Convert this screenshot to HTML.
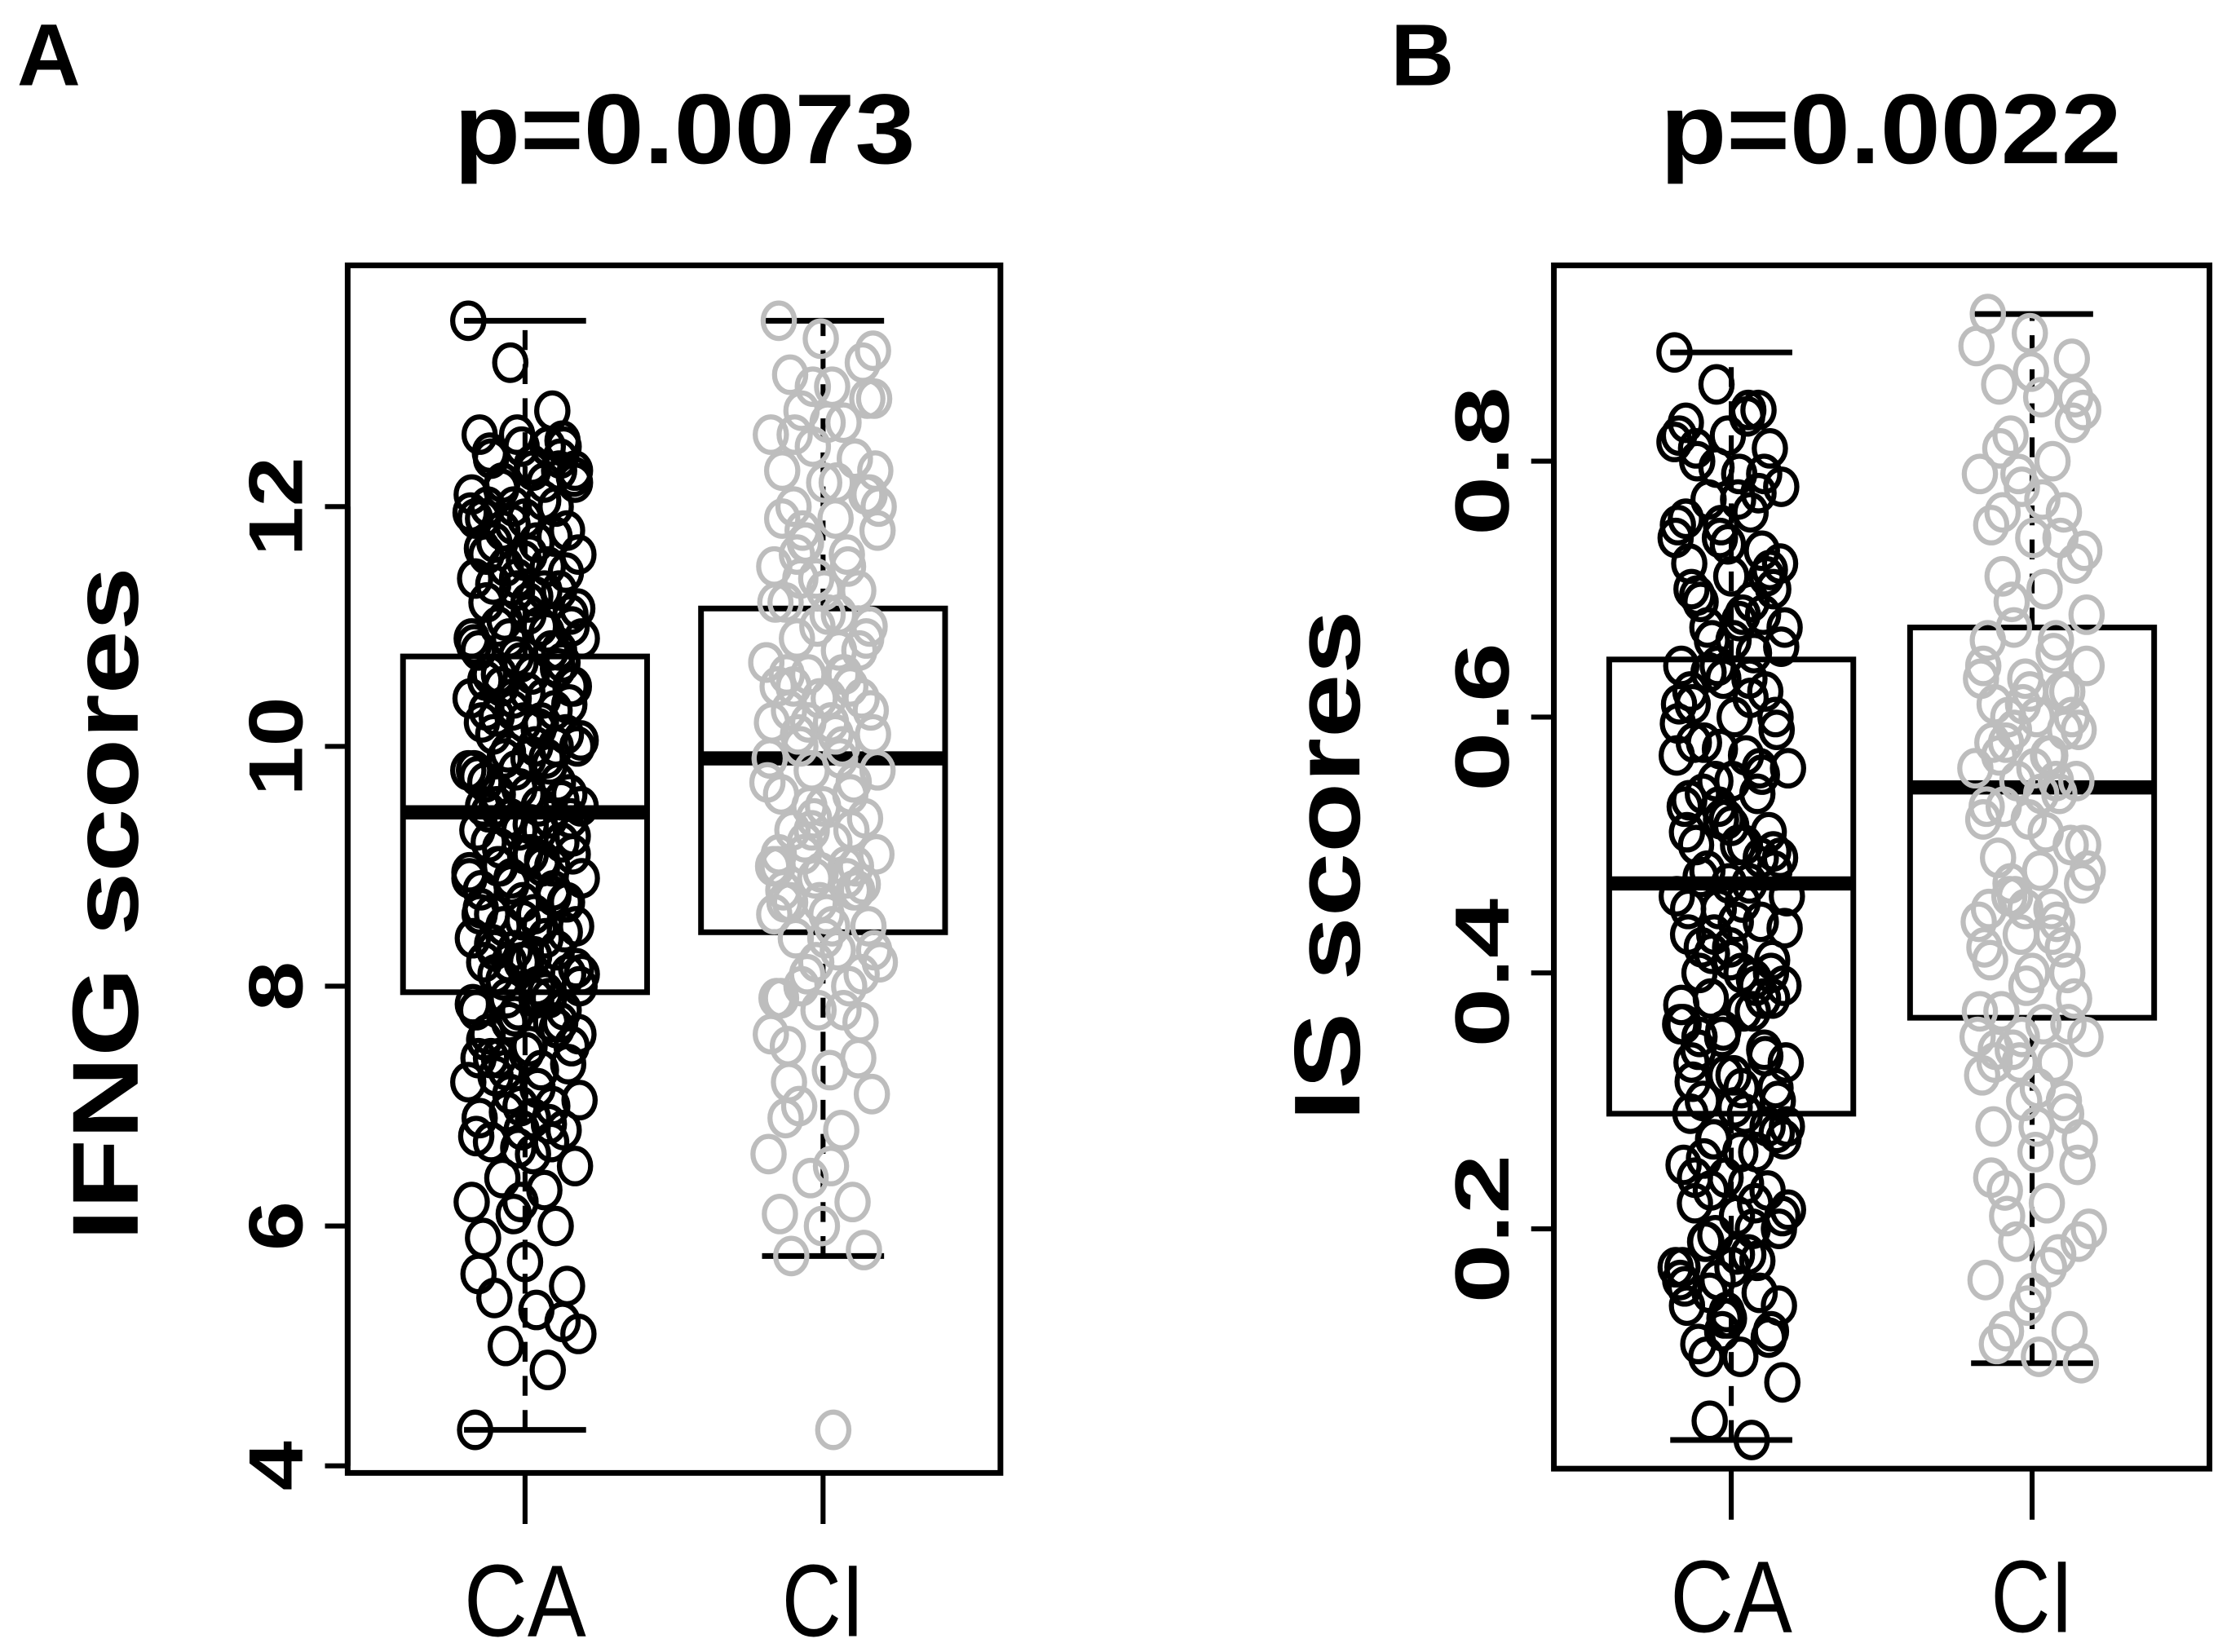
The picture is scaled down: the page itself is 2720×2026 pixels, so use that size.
<!DOCTYPE html>
<html><head><meta charset="utf-8"><style>
html,body{margin:0;padding:0;background:#fff;}
svg{display:block;}
text{font-family:"Liberation Sans",Arial,sans-serif;fill:#000;}
</style></head><body>
<svg id="fig" width="2720" height="2026" viewBox="0 0 1563 1164.2" preserveAspectRatio="none" xmlns="http://www.w3.org/2000/svg">
<rect width="1563" height="1165" fill="#fff"/>
<text x="12" y="60" font-size="62" font-weight="bold">A</text>
<text x="980" y="60" font-size="62" font-weight="bold">B</text>
<text x="320" y="115" font-size="70" font-weight="bold" textLength="325" lengthAdjust="spacingAndGlyphs">p=0.0073</text>
<text x="1170" y="115" font-size="70" font-weight="bold" textLength="325" lengthAdjust="spacingAndGlyphs">p=0.0022</text>
<g id="pa"></g>
<g id="pb"></g>
</svg>
<script>
// ----- Panel A data (IFNG scores) -----
const categories = ["CA", "CI"];
const aTicks = [4, 6, 8, 10, 12];
const aStatsCA = [4.3, 7.95, 9.45, 10.75, 13.55]; // min q1 median q3 max
const aStatsCI = [5.75, 8.45, 9.9, 11.15, 13.55];
const aPointsCA = [13.55,13.2,12.8,12.6,12.5,12.5,12.4,12.3,12.3,12.2,12.2,12.1,12.0,12.0,11.9,11.9,11.8,11.7,11.7,11.6,11.5,11.5,11.4,11.3,11.3,11.2,11.1,11.1,11.0,11.0,10.9,10.9,10.8,10.8,10.7,10.7,10.6,10.6,10.5,10.5,10.4,10.4,10.3,10.3,10.2,10.2,10.1,10.1,10.0,10.0,9.9,9.9,9.8,9.8,9.7,9.7,9.6,9.6,9.5,9.5,9.5,9.4,9.4,9.3,9.3,9.2,9.2,9.1,9.1,9.0,9.0,8.9,8.9,8.8,8.8,8.7,8.7,8.6,8.6,8.5,8.5,8.4,8.4,8.3,8.3,8.2,8.2,8.1,8.1,8.0,8.0,7.9,7.9,7.8,7.8,7.7,7.6,7.5,7.5,7.4,7.3,7.2,7.1,7.0,6.9,6.8,6.8,6.7,6.6,6.5,6.4,6.3,6.2,6.1,6.0,5.9,5.7,5.5,5.4,5.3,5.1,5.0,4.8,4.3,12.6,12.3,11.6,11.2,10.5,9.6,9.3,8.9,8.2,7.7,7.4,7.0,
12.55,12.45,12.35,12.25,12.15,12.05,11.95,11.85,11.75,11.65,11.55,11.45,11.35,11.25,11.15,11.05,10.95,10.85,10.75,10.65,10.55,10.45,10.35,10.25,10.15,10.05,9.95,9.85,9.75,9.65,9.55,9.45,9.35,9.25,9.15,9.05,8.95,8.85,8.75,8.65,8.55,8.45,8.35,8.25,8.15,8.05,7.95,7.85,7.75,7.65,7.55,7.45,7.35,7.25,7.15,7.05,6.95,6.85,6.75,6.65,12.4,12.0,11.6,11.0,10.6,10.2,9.8,9.4,9.0,8.6,8.2,7.8,7.4,6.9,12.2,11.8,11.3,10.9,10.4,10.0,9.5,9.1,8.7,8.3,7.9,7.6,7.3,12.5,11.9,11.4,10.8,10.3,9.9,9.4,9.0,8.5,8.1,7.7,6.7,5.6,6.2,5.2];
const aPointsCI = [13.55,13.4,13.2,13.1,13.0,12.9,12.8,12.7,12.6,12.5,12.4,12.3,12.2,12.1,12.0,11.9,11.8,11.7,11.6,11.5,11.4,11.3,11.2,11.1,11.0,10.9,10.8,10.7,10.6,10.5,10.5,10.4,10.4,10.3,10.2,10.1,10.0,10.0,9.9,9.8,9.7,9.6,9.5,9.4,9.3,9.2,9.1,9.1,9.0,9.0,8.9,8.8,8.7,8.6,8.5,8.4,8.3,8.2,8.1,8.0,7.9,7.8,7.7,7.5,7.3,7.1,7.0,6.8,6.6,6.4,6.2,6.1,6.0,5.8,5.75,4.3,12.3,11.8,10.6,10.2,9.4,9.0,8.8,8.4,
12.9,12.6,12.2,12.0,11.7,11.5,11.2,11.0,10.8,10.6,10.4,10.3,10.1,9.9,9.7,9.5,9.3,9.1,8.95,8.85,8.7,8.5,8.3,8.0,7.8,7.6,13.0,12.4,11.9,11.3,10.9,10.5,10.1,9.8,9.2,8.9,8.6,8.2,7.4,6.9,12.7,12.1,11.6,11.1,10.7,10.2,9.6,9.0,8.7,8.1,7.2,6.5,13.3,11.4,10.6,9.9,9.3,8.8,7.9];
// ----- Panel B data (IS scores) -----
const bTicks = [0.2, 0.4, 0.6, 0.8];
const bStatsCA = [0.035, 0.29, 0.47, 0.645, 0.885];
const bStatsCI = [0.095, 0.365, 0.545, 0.67, 0.915];
const bPointsCA = [0.885,0.86,0.84,0.83,0.82,0.81,0.8,0.79,0.78,0.77,0.76,0.75,0.74,0.73,0.72,0.71,0.7,0.69,0.68,0.67,0.66,0.65,0.64,0.63,0.62,0.61,0.6,0.59,0.58,0.57,0.56,0.55,0.54,0.53,0.52,0.51,0.5,0.5,0.49,0.48,0.47,0.46,0.45,0.44,0.43,0.42,0.41,0.4,0.4,0.39,0.38,0.37,0.36,0.35,0.34,0.33,0.32,0.31,0.3,0.29,0.28,0.27,0.26,0.25,0.24,0.23,0.22,0.21,0.2,0.19,0.18,0.17,0.16,0.15,0.14,0.13,0.12,0.11,0.1,0.08,0.05,0.035,0.82,0.75,0.68,0.62,0.55,0.48,0.42,0.37,0.33,0.27,0.22,0.17,0.13,0.71,0.58,0.44,0.3,0.19,
0.835,0.815,0.795,0.775,0.755,0.735,0.715,0.695,0.675,0.655,0.635,0.615,0.595,0.575,0.555,0.535,0.515,0.495,0.475,0.455,0.435,0.415,0.395,0.375,0.355,0.335,0.315,0.295,0.275,0.255,0.235,0.215,0.195,0.175,0.155,0.135,0.115,0.81,0.77,0.72,0.67,0.63,0.57,0.53,0.49,0.45,0.41,0.38,0.35,0.31,0.27,0.23,0.2,0.16,0.12,0.79,0.7,0.66,0.6,0.54,0.5,0.46,0.43,0.39,0.36,0.32,0.28,0.24,0.18,0.14,0.1,0.84,0.74,0.64,0.56,0.51,0.47,0.4,0.34,0.26,0.21,0.15,0.69,0.61,0.52,0.38,0.29,0.17];
const bPointsCI = [0.915,0.9,0.88,0.86,0.85,0.84,0.82,0.8,0.79,0.78,0.76,0.75,0.74,0.72,0.71,0.7,0.68,0.67,0.66,0.64,0.63,0.62,0.61,0.6,0.59,0.58,0.57,0.56,0.55,0.54,0.53,0.52,0.5,0.49,0.48,0.47,0.46,0.45,0.44,0.43,0.42,0.41,0.4,0.38,0.37,0.36,0.35,0.34,0.33,0.32,0.3,0.29,0.28,0.26,0.25,0.23,0.22,0.2,0.19,0.18,0.16,0.14,0.12,0.11,0.1,0.095,0.6,0.57,0.35,0.33,0.62,0.45,
0.87,0.83,0.81,0.77,0.73,0.69,0.65,0.63,0.61,0.59,0.58,0.56,0.55,0.53,0.51,0.48,0.46,0.44,0.42,0.39,0.36,0.34,0.31,0.27,0.21,0.17,0.89,0.79,0.74,0.66,0.62,0.6,0.57,0.54,0.5,0.47,0.43,0.37,0.35,0.3,0.24,0.15,0.85,0.76,0.7,0.64,0.59,0.55,0.52,0.45,0.4,0.33,0.28,0.19,0.12];

const NS = "http://www.w3.org/2000/svg";
function mk(parent, tag, attrs){
  const e = document.createElementNS(NS, tag);
  for (const k in attrs) e.setAttribute(k, attrs[k]);
  parent.appendChild(e);
  return e;
}
function drawPanel(g, cfg){
  const yS = v => cfg.y0 + (v - cfg.v0) * (cfg.y1 - cfg.y0) / (cfg.v1 - cfg.v0);
  const xS = i => cfg.xc[i];
  const groups = [cfg.statsCA, cfg.statsCI];
  const pts = [cfg.ptsCA, cfg.ptsCI];
  const colors = ["#000", "#bdbdbd"];
  const hw = 86;
  groups.forEach((s, i) => {
    const x = xS(i);
    const wl = mk(g, "line", {x1:x, x2:x, y1:yS(s[0]), y2:yS(s[1]), stroke:"#000", "stroke-width":3.5, "stroke-dasharray":"14,10"});
    
    
    const wu = mk(g, "line", {x1:x, x2:x, y1:yS(s[3]), y2:yS(s[4]), stroke:"#000", "stroke-width":3.5, "stroke-dasharray":"14,10"});
    
    
    [s[0], s[4]].forEach(v => {
      const c = mk(g, "line", {x1:x-43, x2:x+43, y1:yS(v), y2:yS(v), stroke:"#000", "stroke-width":4});
      
      
    });
    const b = mk(g, "rect", {x:x-hw, y:yS(s[3]), width:2*hw, height:yS(s[1])-yS(s[3]), fill:"none", stroke:"#000", "stroke-width":4});
    
    
    const m = mk(g, "line", {x1:x-hw, x2:x+hw, y1:yS(s[2]), y2:yS(s[2]), stroke:"#000", "stroke-width":10});
    
    
  });
  pts.forEach((arr, i) => {
    arr.forEach((v, k) => {
      const j = (((k * 37 + i * 11) % 101) / 100 - 0.5) * 80;
      const c = mk(g, "ellipse", {cx:xS(i) + j, cy:yS(v), rx:11, ry:12.5, fill:"none", stroke:colors[i], "stroke-width":3.6});
      
      
    });
  });
  const f = mk(g, "rect", {x:cfg.fx0, y:cfg.fy0, width:cfg.fx1-cfg.fx0, height:cfg.fy1-cfg.fy0, fill:"none", stroke:"#000", "stroke-width":4});
  
  
  cfg.ticks.forEach(t => {
    const y = yS(t);
    const tl = mk(g, "line", {x1:cfg.fx0-16, x2:cfg.fx0, y1:y, y2:y, stroke:"#000", "stroke-width":3.5});
    
    
    const lab = String(t);
    const tx = mk(g, "text", {x:0, y:0, "font-size":54, "font-weight":"bold", "text-anchor":"middle", transform:"translate(" + (cfg.fx0-32) + "," + y + ") rotate(-90)", textLength: lab.length * 35, lengthAdjust:"spacingAndGlyphs"});
    tx.textContent = lab;
    
    
  });
  const ya = mk(g, "line", {x1:cfg.fx0, x2:cfg.fx0, y1:yS(cfg.ticks[0]), y2:yS(cfg.ticks[cfg.ticks.length-1]), stroke:"#000", "stroke-width":4});
  
  
  categories.forEach((c, i) => {
    const tl = mk(g, "line", {x1:xS(i), x2:xS(i), y1:cfg.fy1, y2:cfg.fy1+36, stroke:"#000", "stroke-width":3.5});
    
    
    const tx = mk(g, "text", {x:xS(i), y:cfg.fy1+115, "font-size":72, "text-anchor":"middle", textLength: c === "CA" ? 86 : 58, lengthAdjust:"spacingAndGlyphs"});
    tx.textContent = c;
    
    
  });
  const yt = mk(g, "text", {x:0, y:0, "font-size":66, "font-weight":"bold", "text-anchor":"middle", transform:"translate(" + cfg.titleX + "," + cfg.titleY + ") rotate(-90)", textLength:cfg.titleLen, lengthAdjust:"spacingAndGlyphs"});
  yt.textContent = cfg.title;
  
  
}
drawPanel(document.getElementById("pa"), {
  v0:4, v1:12, y0:1033, y1:357, xc:[370, 580], fx0:245, fx1:705, fy0:187, fy1:1038,
  statsCA:aStatsCA, statsCI:aStatsCI, ptsCA:aPointsCA, ptsCI:aPointsCI, ticks:aTicks,
  title:"IFNG scores", titleX:97, titleY:637, titleLen:475
});
drawPanel(document.getElementById("pb"), {
  v0:0.2, v1:0.8, y0:866, y1:325, xc:[1220, 1432], fx0:1095, fx1:1557, fy0:187, fy1:1035,
  statsCA:bStatsCA, statsCI:bStatsCI, ptsCA:bPointsCA, ptsCI:bPointsCI, ticks:bTicks,
  title:"IS scores", titleX:958, titleY:610, titleLen:360
});
</script>
</body></html>
